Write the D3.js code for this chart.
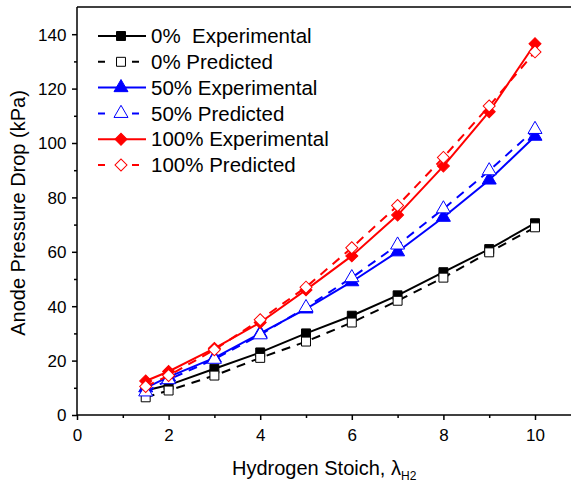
<!DOCTYPE html>
<html>
<head>
<meta charset="utf-8">
<script src="https://cdn.jsdelivr.net/npm/d3@7"></script>
<style>
  body { margin: 0; background: #fff; }
  text { font-family: "Liberation Sans", Arial, sans-serif; }
</style>
</head>
<body>
<svg id="chart" width="571" height="488"></svg>
<script>
const stoich = [1.5, 2, 3, 4, 5, 6, 7, 8, 9, 10];
const exp0 = [9, 11, 17, 23, 30, 36.5, 44, 52.5, 61, 70.5];
const pred0 = [6.5, 9, 14.5, 21, 27, 34, 42, 50.5, 59.8, 69];
const exp50 = [10, 14, 21, 30, 39, 49, 60, 72.7, 86.4, 102.5];
const pred50 = [8.5, 13, 20.5, 29.5, 39.5, 50.5, 62.5, 75.8, 89.8, 105];
const exp100 = [12.5, 16, 24.5, 34, 46, 58.5, 73.5, 91.5, 111.5, 136.5];
const pred100 = [10.5, 14.5, 24, 35, 47, 61.5, 77, 94.7, 113.6, 133.5];
const xTicks = [0, 2, 4, 6, 8, 10];
const yTicks = [0, 20, 40, 60, 80, 100, 120, 140];

const series = [
  { name: '0%\u00a0 Experimental', values: exp0, color: '#000', dash: null, shape: 'square', fill: true },
  { name: '0% Predicted', values: pred0, color: '#000', dash: '9,7', shape: 'square', fill: false },
  { name: '50% Experimental', values: exp50, color: '#0000ff', dash: null, shape: 'triangle', fill: true },
  { name: '50% Predicted', values: pred50, color: '#0000ff', dash: '9,7', shape: 'triangle', fill: false },
  { name: '100% Experimental', values: exp100, color: '#ff0000', dash: null, shape: 'diamond', fill: true },
  { name: '100% Predicted', values: pred100, color: '#ff0000', dash: '9,7', shape: 'diamond', fill: false },
];

const svg = d3.select('#chart');
const plotLeft = 77, plotTop = 7, plotBottom = 415;

const x = d3.scaleLinear().domain([0, 10]).range([plotLeft, 535]);
const y = d3.scaleLinear().domain([0, 150]).range([plotBottom, plotTop]);

// markers (diamond = square turned 45deg)
const symbolFor = s => {
  if (s === 'square') return d3.symbol(d3.symbolSquare, 80);
  if (s === 'triangle') return d3.symbol(d3.symbolTriangle, 85);
  return d3.symbol(d3.symbolSquare, 72);
};
const rot = s => (s === 'diamond' ? ' rotate(45)' : '');

// axes
const xAxis = d3.axisBottom(x).tickValues(xTicks).tickSize(5).tickFormat(d3.format('d'));
const xMinor = d3.axisBottom(x).tickValues([1, 3, 5, 7, 9]).tickSize(3).tickFormat('');
const yAxis = d3.axisLeft(y).tickValues(yTicks).tickSize(5).tickFormat(d3.format('d'));
const yMinor = d3.axisLeft(y).tickValues([10, 30, 50, 70, 90, 110, 130]).tickSize(3).tickFormat('');

const gx = svg.append('g').attr('transform', `translate(0,${plotBottom})`).call(xAxis);
svg.append('g').attr('transform', `translate(0,${plotBottom})`).call(xMinor);
const gy = svg.append('g').attr('transform', `translate(${plotLeft},0)`).call(yAxis);
svg.append('g').attr('transform', `translate(${plotLeft},0)`).call(yMinor);

svg.selectAll('.domain').remove();
svg.selectAll('.tick line').attr('stroke', '#000').attr('stroke-width', 1.5);
gx.selectAll('text').attr('font-size', 17).attr('dy', '1.05em').attr('fill', '#000');
gy.selectAll('text').attr('font-size', 17).attr('dx', '-0.15em').attr('dy', '0.35em').attr('fill', '#000');

// frame (right side is cut off by the picture edge)
svg.append('line').attr('x1', plotLeft).attr('x2', 571).attr('y1', plotBottom).attr('y2', plotBottom)
  .attr('stroke', '#000').attr('stroke-width', 1.5);
svg.append('line').attr('x1', plotLeft).attr('x2', 571).attr('y1', plotTop).attr('y2', plotTop)
  .attr('stroke', '#000').attr('stroke-width', 1.5);
svg.append('line').attr('x1', plotLeft).attr('x2', plotLeft).attr('y1', plotTop).attr('y2', plotBottom)
  .attr('stroke', '#000').attr('stroke-width', 1.5);

// series
const line = d3.line().x((d, i) => x(stoich[i])).y(d => y(d));
series.forEach(s => {
  svg.append('path')
    .attr('d', line(s.values))
    .attr('fill', 'none')
    .attr('stroke', s.color)
    .attr('stroke-width', 2)
    .attr('stroke-dasharray', s.dash);
  svg.append('g').selectAll('path')
    .data(s.values)
    .enter()
    .append('path')
    .attr('d', symbolFor(s.shape))
    .attr('transform', (d, i) => `translate(${x(stoich[i])},${y(d)})${rot(s.shape)}`)
    .attr('fill', s.fill ? s.color : '#fff')
    .attr('stroke', s.color)
    .attr('stroke-width', 1);
});

// legend
const legend = svg.append('g');
series.forEach((s, i) => {
  const ly = 36 + i * 25.8;
  legend.append('line')
    .attr('x1', 98).attr('x2', 146).attr('y1', ly).attr('y2', ly)
    .attr('stroke', s.color).attr('stroke-width', 2)
    .attr('stroke-dasharray', s.dash ? '7,10' : null);
  if (s.dash) {
    // gap behind the hollow marker
    legend.append('rect').attr('x', 110).attr('y', ly - 6).attr('width', 22).attr('height', 12).attr('fill', '#fff');
  }
  legend.append('path')
    .attr('d', symbolFor(s.shape))
    .attr('transform', `translate(121,${ly})${rot(s.shape)}`)
    .attr('fill', s.fill ? s.color : '#fff')
    .attr('stroke', s.color)
    .attr('stroke-width', 1);
  legend.append('text')
    .attr('x', 151).attr('y', ly).attr('dy', '0.35em')
    .attr('font-size', 20.5).attr('fill', '#000')
    .text(s.name);
});

// axis titles
svg.append('text')
  .attr('transform', `translate(25,${(plotTop + plotBottom) / 2 + 2}) rotate(-90)`)
  .attr('text-anchor', 'middle')
  .attr('font-size', 20)
  .text('Anode Pressure Drop (kPa)');

const xt = svg.append('text')
  .attr('x', 232).attr('y', 475)
  .attr('font-size', 20);
xt.append('tspan').text('Hydrogen Stoich, \u03bb');
xt.append('tspan').attr('font-size', 12).attr('dy', 5).text('H2');
</script>
</body>
</html>
